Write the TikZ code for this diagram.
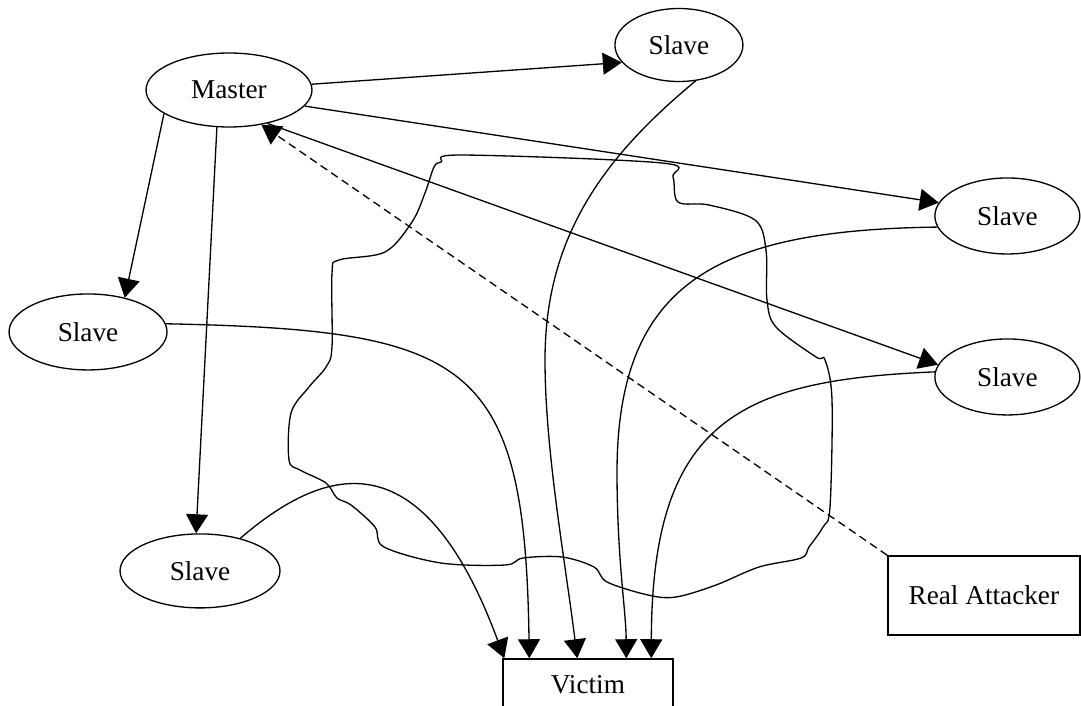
\documentclass[tikz,border=0pt]{standalone}
\usepackage{fontspec}
\setmainfont{Liberation Serif}
\usetikzlibrary{shapes.geometric,positioning,arrows.meta}
\tikzset{
  ellnode/.style={ellipse,draw,line width=0.75pt,inner sep=0pt,font=\fontsize{15.5}{18}\selectfont},
  boxnode/.style={rectangle,draw,line width=0.75pt,inner sep=0pt,font=\fontsize{15.5}{18}\selectfont},
  link/.style={line width=0.75pt,-{Triangle[length=0.38cm,width=0.44cm]}},
  fakelink/.style={link,dash pattern=on 4.5pt off 2.8pt},
  cloudline/.style={line width=0.75pt}
}
\begin{document}
\begin{tikzpicture}[x=0.02cm,y=-0.02cm]
  \useasboundingbox (0,0) rectangle (1081,706);
  \clip (0,0) rectangle (1081,706);
  \node[ellnode,minimum width=3.32cm,minimum height=1.48cm] (master) at (229,90) {Master};
  \node[ellnode,minimum width=2.56cm,minimum height=1.46cm,on grid,above right=0.9cm and 9cm of master] (topslave) {Slave};
  \node[ellnode,minimum width=2.9cm,minimum height=1.52cm,on grid,below right=2.52cm and 15.57cm of master] (rslave1) {Slave};
  \node[ellnode,minimum width=2.9cm,minimum height=1.52cm,on grid,below right=5.74cm and 15.57cm of master] (rslave2) {Slave};
  \node[ellnode,minimum width=3.16cm,minimum height=1.52cm,on grid,below left=4.84cm and 2.82cm of master] (lslave) {Slave};
  \node[ellnode,minimum width=3.2cm,minimum height=1.48cm,on grid,below left=9.62cm and 0.58cm of master] (bslave) {Slave};
  \node[boxnode,minimum width=3.84cm,minimum height=1.58cm,on grid,below right=10.11cm and 15.1cm of master] (attacker) {Real Attacker};
  \node[boxnode,minimum width=3.4cm,minimum height=1.04cm,on grid,below right=11.9cm and 7.18cm of master] (victim) {Victim};

  \draw[cloudline] plot[smooth cycle,tension=0.55] coordinates {
    (462,155) (662,163) (673,177) (678,202) (709,205) (755,220) (766,250) (767,300)
    (776,327) (816,357) (825,360) (832,400) (830,507) (823,527) (809,547) (801,558)
    (759,567) (716,585) (676,597) (648,595) (607,582) (594,567) (562,557) (523,558)
    (505,565) (441,563) (384,547) (375,527) (351,505) (337,498) (326,483) (300,470)
    (289,460) (291,413) (309,387) (326,367) (332,347) (332,273) (339,260) (385,252)
    (412,222) (425,193) (434,167) (441,162)};

  \draw[link] (master.4) -- (topslave.197);
  \draw[link] (master.348) -- (rslave1.169);
  \draw[link] (master.319) -- (rslave2.170);
  \draw[link] (master.200) -- (lslave.43);
  \draw[link] (master.252) -- (bslave.96);
  \draw[fakelink] (attacker.north west) -- (master.313);

  \draw[link] (lslave.6) .. controls (470,330) and (525,360) .. ([xshift=0.54cm]victim.north west);
  \draw[link] (bslave.39) .. controls (320,470) and (420,430) .. ([xshift=0.04cm]victim.north west);
  \draw[link] (topslave.295) .. controls (600,160) and (545,240) .. (545,360)
    .. controls (545,450) and (565,560) .. ([xshift=1.5cm]victim.north west);
  \draw[link] (rslave1.189) .. controls (720,230) and (618,280) .. (617,470)
    .. controls (617,560) and (626,610) .. ([xshift=2.48cm]victim.north west);
  \draw[link] (rslave2.176) .. controls (740,380) and (652,420) .. ([xshift=2.98cm]victim.north west);
\end{tikzpicture}
\end{document}
